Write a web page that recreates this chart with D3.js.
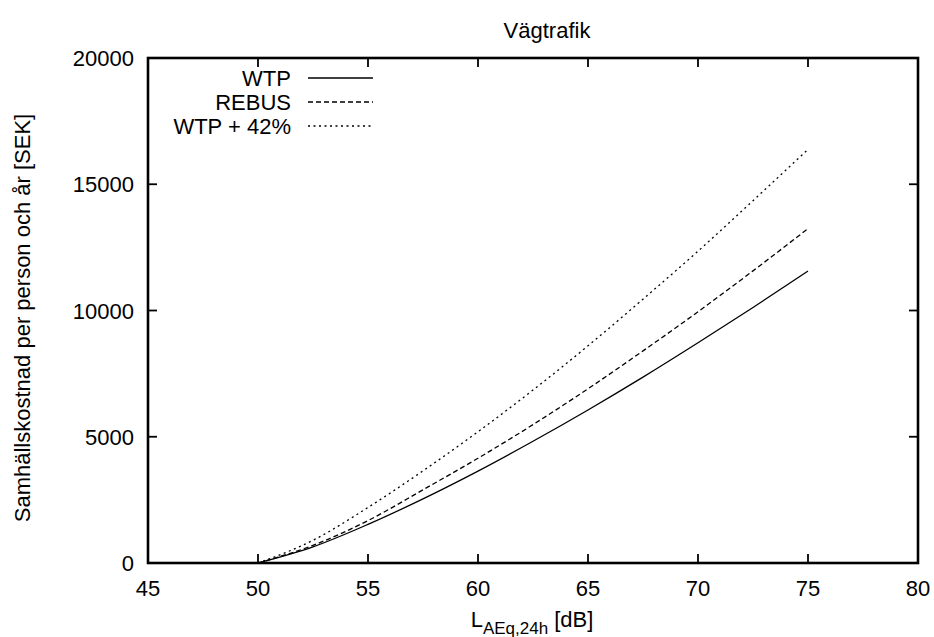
<!DOCTYPE html>
<meta charset="utf-8">
<head>
  <title>Vägtrafik</title>
</head>
<style>
  body { margin: 0; background: #fff; }
  text { font-family: Arial, "Liberation Sans", sans-serif; fill: #000; }
</style>
<body>
<svg width="934" height="637"></svg>
<script src="https://cdn.jsdelivr.net/npm/d3@7"></script>
<script>

// levels in dB and costs
var levels = [50, 52.5, 55, 57.5, 60, 62.5, 65, 67.5, 70, 72.5, 75];
var wtp    = [0, 640, 1530, 2540, 3640, 4820, 6060, 7360, 8720, 10120, 11560];
var rebus  = [0, 700, 1680, 2900, 4150, 5480, 6900, 8400, 9950, 11570, 13242];
var wtp42  = [0, 900, 2200, 3650, 5200, 6850, 8600, 10450, 12350, 14350, 16380];

var seriesNames = ["WTP", "REBUS", "WTP + 42%"];
var xTicks = [45, 50, 55, 60, 65, 70, 75, 80];
var yTicks = [0, 5000, 10000, 15000, 20000];

var svg = d3.select("svg");
var mLeft = 148, mRight = 918, mTop = 58, mBottom = 563;

var x = d3.scaleLinear().domain([45, 80]).range([mLeft, mRight]);
var y = d3.scaleLinear().domain([0, 20000]).range([mBottom, mTop]);

var dashes = ["none", "5,3", "2,3.5"];
var allSeries = [wtp, rebus, wtp42];

var line = d3.line()
  .x(function(d) { return x(d[0]); })
  .y(function(d) { return y(d[1]); })
  .curve(d3.curveMonotoneX);

allSeries.forEach(function(vals, i) {
  svg.append("path")
    .datum(levels.map(function(l, j) { return [l, vals[j]]; }))
    .attr("d", line)
    .attr("fill", "none")
    .attr("stroke", "#000")
    .attr("stroke-width", 1.3)
    .attr("stroke-dasharray", dashes[i]);
});

// ticks (pointing inward, all four sides)
var tl = 9;
var g = svg.append("g").attr("stroke", "#000").attr("stroke-width", 1.8);
xTicks.forEach(function(t) {
  g.append("line").attr("x1", x(t)).attr("x2", x(t)).attr("y1", mBottom).attr("y2", mBottom - tl);
  g.append("line").attr("x1", x(t)).attr("x2", x(t)).attr("y1", mTop).attr("y2", mTop + tl);
});
yTicks.forEach(function(t) {
  g.append("line").attr("x1", mLeft).attr("x2", mLeft + tl).attr("y1", y(t)).attr("y2", y(t));
  g.append("line").attr("x1", mRight).attr("x2", mRight - tl).attr("y1", y(t)).attr("y2", y(t));
});

svg.append("rect")
  .attr("x", mLeft).attr("y", mTop)
  .attr("width", mRight - mLeft).attr("height", mBottom - mTop)
  .attr("fill", "none").attr("stroke", "#000").attr("stroke-width", 2.6);

// tick labels
var fs = 22;
svg.selectAll(".xl").data(xTicks).enter().append("text")
  .attr("x", function(d) { return x(d); })
  .attr("y", 596)
  .attr("text-anchor", "middle")
  .style("font-size", fs + "px")
  .text(function(d) { return d; });

svg.selectAll(".yl").data(yTicks).enter().append("text")
  .attr("x", 134)
  .attr("y", function(d) { return y(d) + 8; })
  .attr("text-anchor", "end")
  .style("font-size", fs + "px")
  .text(function(d) { return d; });

// title
svg.append("text")
  .attr("x", 547).attr("y", 38)
  .attr("text-anchor", "middle")
  .style("font-size", fs + "px")
  .text("Vägtrafik");

// x label with subscript
var xl = svg.append("text")
  .attr("x", 532).attr("y", 627)
  .attr("text-anchor", "middle")
  .style("font-size", fs + "px");
xl.append("tspan").text("L");
xl.append("tspan").attr("dy", 7).style("font-size", "17px").text("AEq,24h");
xl.append("tspan").attr("dy", -7).text(" [dB]");

// y label
svg.append("text")
  .attr("transform", "translate(30,318) rotate(-90)")
  .attr("text-anchor", "middle")
  .style("font-size", fs + "px")
  .text("Samhällskostnad per person och år [SEK]");

// legend
seriesNames.forEach(function(name, i) {
  var ly = 78 + i * 24;
  svg.append("text")
    .attr("x", 291).attr("y", ly + 8)
    .attr("text-anchor", "end")
    .style("font-size", fs + "px")
    .text(name);
  svg.append("line")
    .attr("x1", 308).attr("x2", 373)
    .attr("y1", ly).attr("y2", ly)
    .attr("stroke", "#000").attr("stroke-width", 1.3)
    .attr("stroke-dasharray", dashes[i]);
});

</script>
</body>
</html>
